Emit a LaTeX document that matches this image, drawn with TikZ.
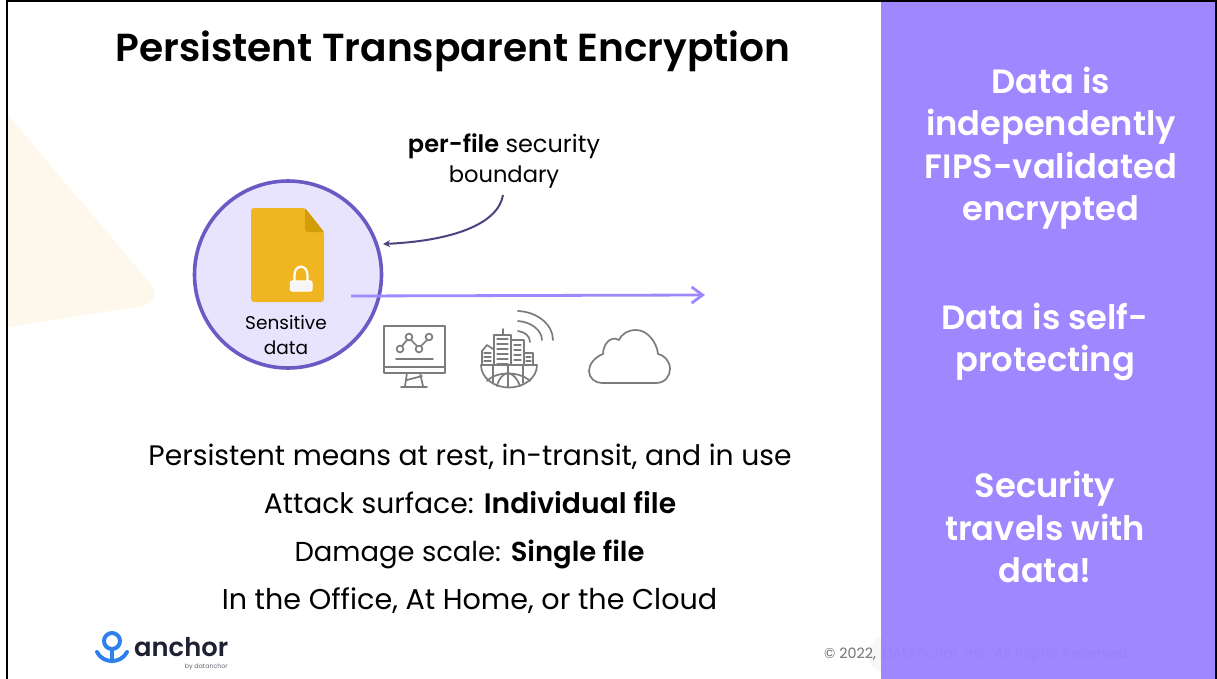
\documentclass[tikz,border=0pt]{standalone}
\usepackage{fontspec}
\setmainfont{Poppins}[BoldFont={Poppins SemiBold}]
\usetikzlibrary{arrows.meta,calc}
\definecolor{violetbar}{HTML}{9F88FF}
\definecolor{violetfaint}{HTML}{9A83F6}
\definecolor{ringc}{HTML}{6C5AC4}
\definecolor{ringfill}{HTML}{E9E4FD}
\definecolor{docc}{HTML}{F0B622}
\definecolor{foldc}{HTML}{D19E08}
\definecolor{creamc}{HTML}{FEF8EC}
\definecolor{iconc}{HTML}{7C7C7C}
\definecolor{bluelogo}{HTML}{2F80ED}
\definecolor{darklogo}{HTML}{1F2033}
\definecolor{curvec}{HTML}{4A4480}
\tikzset{
 x=1pt,y=-1pt,
 sidetext/.style={align=center,text=white,font=\fontsize{33.7}{42.5}\selectfont\bfseries},
 bodytext/.style={anchor=base,inner sep=0pt,font=\fontsize{28.2}{32}\selectfont,text=black},
 calltext/.style={align=center,font=\fontsize{24}{30}\selectfont},
 icon/.style={draw=iconc,line width=1.7pt,line cap=round,line join=round},
 thinicon/.style={icon,line width=1.1pt},
}
\begin{document}
\begin{tikzpicture}
\useasboundingbox (0,0) rectangle (1217,679);
\fill[white] (0,0) rectangle (1217,679);
% cream triangle
\fill[creamc] (8,115) -- (149,282) .. controls (158,292) and (155,304) .. (142,306) -- (8,327) -- cycle;
% faint blob by the footer
\fill[black!3] (881,636) .. controls (872,640) and (866,650) .. (869,660) .. controls (871,666) and (876,670) .. (881,672) -- cycle;
% side bar
\fill[violetbar] (881,0) rectangle (1217,679);
% borders
\draw[black,line width=2pt] (7,679) -- (7,1) -- (1216,1) -- (1216,679);
% title
\node[font=\fontsize{39.1}{44}\selectfont\bfseries,anchor=base,inner sep=0pt] (title) at (453,62) {Persistent Transparent Encryption};
% side texts
\node[sidetext] (side1) at (1051,148) {Data is\\independently\\FIPS-validated\\encrypted};
\node[sidetext] (side2) at (1045,342) {Data is self-\\protecting};
\node[sidetext] (side3) at (1045,527) {Security\\travels with\\data!};
% circle
\node[circle,draw=ringc,fill=ringfill,line width=3.6pt,minimum size=187pt,inner sep=0pt] (ring) at (288,274.5) {};
% doc
\fill[docc,rounded corners=3pt] (251,208) -- (305,208) -- (324,232) -- (324,302) -- (251,302) -- cycle;
\fill[foldc] (305,208) -- (324,232) -- (308,232) .. controls (306,232) and (305,231) .. (305,229) -- cycle;
% lock
\draw[white,line width=2.2pt] (294.5,282) -- (294.5,275) .. controls (294.5,264) and (307.5,264) .. (307.5,275) -- (307.5,282);
\fill[white!93!gray,draw=white,line width=1.4pt,rounded corners=2pt] (290.5,281) rectangle (312,291);
\node[calltext,font=\fontsize{18.5}{25}\selectfont] (sens) at (286,335) {Sensitive\\data};
% arrow
\coordinate (arrowstart) at (351,296);
\coordinate (arrowend) at (705,295);
\draw[violetbar,line width=2.8pt,-{Straight Barb[length=11pt,width=16pt,line width=2.8pt]}] (arrowstart) -- (arrowend);
% callout
\node[calltext] (call) at (504,161) {\textbf{per-file} security\\{\fontsize{22.6}{30}\selectfont boundary}};
\coordinate (curvestart) at (503,195);
\coordinate (curveend) at (383,244);
\draw[curvec,line width=2pt,-{Stealth[length=7pt,width=7pt]}] (curvestart) .. controls (498,225) and (450,241) .. (curveend);
% monitor icon
\draw[icon] (384,326) rectangle (445,373);
\draw[icon] (384,367) -- (445,367);
\draw[icon] (407,373) -- (405,386) (420,373) -- (423,386) (401,387) -- (427,387) (407,380) -- (422,376);
\draw[icon] (402,346) -- (407,340) (411,340) -- (417,346) (421,346) -- (427,340);
\draw[icon] (400,349) circle (3.4) (409,337) circle (3.4) (419,349) circle (3.4) (429,337) circle (3.4);
\draw[icon] (396,359) -- (433,359);
% globe city icon
\draw[icon] (481,365) .. controls (481,378) and (494,387.5) .. (509,387.5) .. controls (524,387.5) and (537,378) .. (537,365) -- cycle;
\draw[icon] (508,365) -- (508,387);
\draw[icon] (493,365) -- (493,383) (523,365) -- (523,383);
\draw[icon] (487,381) .. controls (496,371) and (520,371) .. (530,381);
\draw[icon] (497,386) .. controls (499,378) and (503,374) .. (508,373) .. controls (513,374) and (517,378) .. (520,386);
\draw[icon] (494,365) -- (494,335) -- (511,335) -- (511,365);
\draw[icon] (511,340) -- (524,340) -- (524,365);
\draw[icon] (503,335) -- (503,329);
\foreach \yy in {339,344,349,354,359,364} {\draw[thinicon] (497,\yy) -- (508,\yy);}
\foreach \yy in {345,350,355,360} {\draw[thinicon] (514,\yy) -- (521,\yy);}
\draw[icon] (482,365) -- (482,351) -- (487,345) -- (493,349);
\foreach \yy in {353,357,361} {\draw[thinicon] (484,\yy) -- (491,\yy);}
\draw[icon] (525,353) -- (533,353) -- (533,365);
\foreach \yy in {357,361} {\draw[thinicon] (526,\yy) -- (531,\yy);}
\draw[icon] (518,331) .. controls (525,332) and (530,336) .. (530,342);
\draw[icon] (518,321) .. controls (532,322) and (542,331) .. (542,340);
\draw[icon] (518,311) .. controls (538,312) and (553,325) .. (553,340);
% cloud icon
\draw[icon] (602,383) -- (656,383) .. controls (665,383) and (670,376) .. (670,369)
 .. controls (670,361) and (664,355) .. (658,354)
 .. controls (657,343) and (648,330) .. (636,330)
 .. controls (627,330) and (621,335) .. (619,340)
 .. controls (610,335) and (603,345) .. (603,354)
 .. controls (595,357) and (589,364) .. (589,371)
 .. controls (589,378) and (595,383) .. (602,383) -- cycle;
% body text
\node[bodytext] (l1) at (470,465) {Persistent means at rest, in-transit, and in use};
\node[bodytext] (l2) at (470,513) {Attack surface: \textbf{Individual file}};
\node[bodytext,font=\fontsize{27.4}{32}\selectfont] (l3) at (469.5,561) {Damage scale: \textbf{Single file}};
\node[bodytext,font=\fontsize{28.6}{32}\selectfont] (l4) at (469.5,609) {In the Office, At Home, or the Cloud};
% logo
\draw[bluelogo,line width=4pt] (112,641) circle (8);
\draw[bluelogo,line width=4pt] (112,649) -- (112,660);
\draw[bluelogo,line width=4pt,line cap=round] (97,652) .. controls (100,658) and (106,661) .. (112,661) .. controls (118,661) and (124,658) .. (127,652);
\node[text=darklogo,font=\fontsize{25.8}{27}\selectfont\bfseries,anchor=base west,inner sep=0pt] (logo) at (134,656) {anchor};
\node[text=darklogo!70,font=\fontsize{6.3}{7}\selectfont,anchor=base east,inner sep=0pt] (logosub) at (228,668) {by datanchor};
% copyright
\node[text=black!55,font=\fontsize{14.3}{16}\selectfont,anchor=base west,inner sep=0pt] (copy1) at (824,658) {© 2022,};
\node[text=violetfaint,font=\fontsize{14.3}{16}\selectfont,anchor=base west,inner sep=0pt] (copy2) at (882,658) {DAtAnchor, Inc. All Rights Reserved};
\end{tikzpicture}
\end{document}
